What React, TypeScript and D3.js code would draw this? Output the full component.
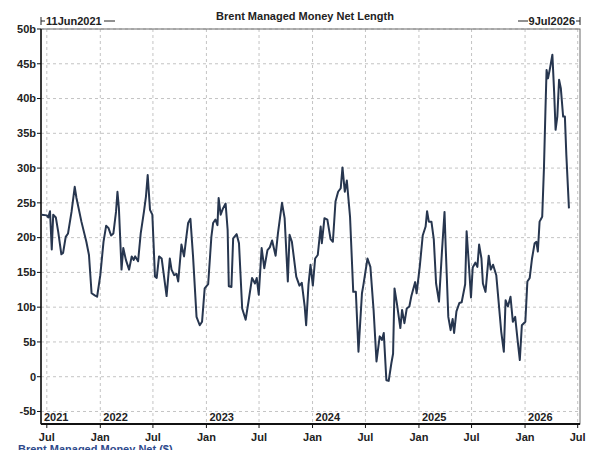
import React from 'react';
import * as d3 from 'd3';

const title = 'Brent Managed Money Net Length';
const startLabel = '11Jun2021';
const endLabel = '9Jul2026';
const seriesName = 'Brent Managed Money Net ($)';
const domainStart = '2021-06-11';
const domainEnd = '2026-07-09';

// weekly readings (approx.), $ billions
const dates = [
  '2021-06-13', '2021-07-01', '2021-07-06', '2021-07-12', '2021-07-18', '2021-07-23', '2021-08-01', '2021-08-09',
  '2021-08-20', '2021-08-26', '2021-09-04', '2021-09-12', '2021-09-24', '2021-10-05', '2021-10-11', '2021-10-28',
  '2021-11-14', '2021-11-23', '2021-12-02', '2021-12-13', '2021-12-21', '2022-01-01', '2022-01-12', '2022-01-21',
  '2022-01-29', '2022-02-07', '2022-02-15', '2022-02-24', '2022-03-01', '2022-03-06', '2022-03-15', '2022-03-21',
  '2022-03-30', '2022-04-10', '2022-04-19', '2022-04-26', '2022-05-01', '2022-05-11', '2022-05-20', '2022-05-31',
  '2022-06-07', '2022-06-13', '2022-06-21', '2022-06-29', '2022-07-08', '2022-07-14', '2022-07-22', '2022-07-31',
  '2022-08-06', '2022-08-17', '2022-08-28', '2022-09-03', '2022-09-12', '2022-09-20', '2022-09-26', '2022-10-07',
  '2022-10-16', '2022-10-24', '2022-10-30', '2022-11-07', '2022-11-16', '2022-11-28', '2022-12-09', '2022-12-17',
  '2022-12-26', '2023-01-07', '2023-01-18', '2023-01-24', '2023-02-01', '2023-02-08', '2023-02-12', '2023-02-19',
  '2023-02-27', '2023-03-08', '2023-03-15', '2023-03-19', '2023-03-28', '2023-04-03', '2023-04-15', '2023-04-23',
  '2023-05-04', '2023-05-16', '2023-05-25', '2023-06-07', '2023-06-17', '2023-06-23', '2023-06-30', '2023-07-10',
  '2023-07-19', '2023-07-30', '2023-08-07', '2023-08-15', '2023-08-27', '2023-09-04', '2023-09-18', '2023-09-27',
  '2023-10-08', '2023-10-14', '2023-10-22', '2023-11-06', '2023-11-17', '2023-11-25', '2023-12-05', '2023-12-10',
  '2023-12-18', '2023-12-25', '2024-01-02', '2024-01-10', '2024-01-19', '2024-01-29', '2024-02-02', '2024-02-11',
  '2024-02-21', '2024-03-03', '2024-03-11', '2024-03-20', '2024-03-29', '2024-04-07', '2024-04-13', '2024-04-21',
  '2024-04-28', '2024-05-09', '2024-05-20', '2024-05-29', '2024-06-07', '2024-06-19', '2024-06-24', '2024-07-08',
  '2024-07-18', '2024-07-29', '2024-08-08', '2024-08-19', '2024-08-27', '2024-09-02', '2024-09-11', '2024-09-19',
  '2024-09-28', '2024-10-04', '2024-10-09', '2024-10-18', '2024-10-29', '2024-11-04', '2024-11-12', '2024-11-20',
  '2024-11-29', '2024-12-06', '2024-12-19', '2024-12-24', '2025-01-04', '2025-01-14', '2025-01-24', '2025-01-29',
  '2025-02-04', '2025-02-13', '2025-02-21', '2025-03-01', '2025-03-11', '2025-03-21', '2025-03-30', '2025-04-03',
  '2025-04-12', '2025-04-20', '2025-04-27', '2025-05-02', '2025-05-10', '2025-05-20', '2025-05-28', '2025-06-09',
  '2025-06-14', '2025-06-21', '2025-06-29', '2025-07-05', '2025-07-14', '2025-07-21', '2025-07-27', '2025-08-04',
  '2025-08-09', '2025-08-18', '2025-08-29', '2025-09-05', '2025-09-13', '2025-09-24', '2025-10-02', '2025-10-11',
  '2025-10-20', '2025-10-26', '2025-11-03', '2025-11-12', '2025-11-20', '2025-11-28', '2025-12-07', '2025-12-14',
  '2025-12-21', '2026-01-02', '2026-01-09', '2026-01-17', '2026-01-25', '2026-02-03', '2026-02-09', '2026-02-14',
  '2026-02-20', '2026-03-01', '2026-03-07', '2026-03-12', '2026-03-16', '2026-03-21', '2026-03-28', '2026-04-05',
  '2026-04-11', '2026-04-16', '2026-04-22', '2026-04-28', '2026-05-04', '2026-05-12', '2026-05-18', '2026-05-23',
  '2026-06-01',
];

const values = [
  23.3, 23.2, 22.9, 23.8, 18.3, 23.3, 22.9, 20.9,
  17.6, 17.8, 20.1, 20.6, 23.7, 27.3, 25.7, 22.3,
  19.4, 17.5, 12.0, 11.7, 11.5, 14.6, 19.4, 21.7,
  21.4, 20.3, 20.6, 23.7, 26.6, 24.2, 15.4, 18.5,
  16.8, 15.4, 17.3, 16.8, 17.3, 16.6, 20.6, 23.7,
  25.9, 29.0, 24.0, 23.3, 14.4, 14.2, 17.3, 17.0,
  15.1, 11.6, 17.0, 15.4, 14.6, 14.8, 13.7, 19.0,
  17.3, 20.1, 22.1, 22.7, 17.3, 8.6, 7.4, 7.9,
  12.7, 13.3, 20.1, 22.1, 22.6, 21.8, 25.7, 23.3,
  24.2, 24.9, 21.1, 13.0, 12.9, 19.9, 20.5, 19.2,
  9.8, 8.2, 10.6, 14.2, 13.4, 14.2, 11.8, 18.5,
  15.6, 18.2, 18.6, 19.6, 17.4, 20.6, 25.0, 22.8,
  13.7, 20.4, 19.4, 14.4, 13.1, 13.5, 10.1, 7.4,
  13.2, 16.1, 13.1, 17.0, 17.5, 21.6, 19.2, 22.8,
  22.6, 19.8, 19.4, 25.2, 26.6, 27.1, 30.1, 26.6,
  28.2, 23.0, 12.2, 12.2, 3.6, 12.0, 13.2, 17.0,
  15.8, 9.6, 2.2, 5.8, 5.3, 6.3, -0.5, -0.6,
  1.9, 3.3, 12.7, 10.3, 7.0, 9.6, 7.7, 9.8,
  10.1, 11.6, 13.6, 12.0, 15.9, 20.3, 21.6, 23.8,
  22.3, 22.3, 19.8, 13.4, 10.8, 17.9, 23.7, 18.7,
  8.6, 6.7, 8.3, 6.3, 9.4, 10.6, 10.7, 13.3,
  20.9, 16.6, 11.4, 15.7, 16.4, 15.8, 19.0, 17.0,
  13.4, 12.2, 17.4, 15.4, 16.1, 14.6, 10.8, 6.5,
  3.6, 11.0, 10.1, 11.5, 7.9, 8.6, 5.0, 2.4,
  7.4, 7.9, 13.7, 14.2, 17.0, 19.2, 19.4, 18.0,
  22.3, 23.0, 30.0, 38.1, 44.1, 42.9, 44.4, 46.3,
  41.0, 35.5, 37.4, 42.7, 41.5, 37.4, 37.4, 31.9,
  24.2,
];

const yTicks = [-5, 0, 5, 10, 15, 20, 25, 30, 35, 40, 45, 50];
const years = [2021, 2022, 2023, 2024, 2025, 2026];

const parse = d3.timeParse('%Y-%m-%d');
const font = '"Liberation Sans", Arial, sans-serif';

export default function App() {
  const width = 600;
  const height = 450;
  const left = 41;
  const right = 580;
  const top = 29;
  const bottom = 424;

  const x = d3.scaleTime()
    .domain([parse(domainStart) as Date, parse(domainEnd) as Date])
    .range([left, right]);
  const y = d3.scaleLinear().domain([-6.8, 50]).range([bottom, top]);

  const points = dates.map((d, i) => ({ date: parse(d) as Date, value: values[i] }));
  const linePath = d3.line<{ date: Date; value: number }>()
    .x((d) => x(d.date))
    .y((d) => y(d.value))(points);

  const xTicks = x.ticks(d3.timeMonth.every(6) as d3.TimeInterval);
  const fmtMonth = d3.timeFormat('%b');

  return (
    <svg
      width={width}
      height={height}
      style={{ position: 'absolute', left: 0, top: 0, background: '#fff' }}
      fontFamily={font}
    >
      <rect x={0} y={0} width={width} height={height} fill="#fff" />

      {/* grid */}
      {yTicks.map((t) => (
        <line key={'gy' + t} x1={left} x2={right} y1={y(t)} y2={y(t)}
          stroke="#c4c4c4" strokeDasharray="3,3" strokeWidth={1} />
      ))}
      {xTicks.map((t, i) => (
        <line key={'gx' + i} x1={x(t)} x2={x(t)} y1={top} y2={bottom}
          stroke="#c4c4c4" strokeDasharray="3,3" strokeWidth={1} />
      ))}

      {/* frame */}
      <rect x={left} y={top} width={right - left} height={bottom - top}
        fill="none" stroke="#6a6a6a" strokeWidth={1} />
      <line x1={left} x2={left} y1={top} y2={bottom} stroke="#111" strokeWidth={1.5} />
      <line x1={left} x2={right} y1={bottom} y2={bottom} stroke="#111" strokeWidth={2} />

      {/* series */}
      <path d={linePath ?? ''} fill="none" stroke="#27364f" strokeWidth={2} strokeLinejoin="round" />

      {/* y axis */}
      {yTicks.map((t) => (
        <g key={'ty' + t}>
          <line x1={left - 4} x2={left} y1={y(t)} y2={y(t)} stroke="#111" />
          <text x={left - 5} y={y(t)} dy="0.35em" textAnchor="end"
            fontSize={11} fontWeight="bold" fill="#222">
            {t === 0 ? '0' : `${t}b`}
          </text>
        </g>
      ))}

      {/* x axis */}
      {xTicks.map((t, i) => (
        <g key={'tx' + i}>
          <line x1={x(t)} x2={x(t)} y1={bottom} y2={bottom + 4} stroke="#111" />
          <text x={x(t)} y={bottom + 17} textAnchor="middle"
            fontSize={11} fontWeight="bold" fill="#222">
            {fmtMonth(t)}
          </text>
        </g>
      ))}
      {years.map((yr) => (
        <text key={'yr' + yr}
          x={Math.max(x(new Date(yr, 0, 1)), left) + 3}
          y={bottom - 3}
          fontSize={11} fontWeight="bold" fill="#222">
          {yr}
        </text>
      ))}

      {/* header */}
      <text x={305} y={20} textAnchor="middle" fontSize={11} fontWeight="bold" fill="#222">
        {title}
      </text>
      <line x1={left} x2={left} y1={17} y2={25} stroke="#222" />
      <line x1={left} x2={left + 4} y1={21} y2={21} stroke="#222" />
      <text x={left + 5} y={25} fontSize={11} fontWeight="bold" fill="#222">{startLabel}</text>
      <line x1={104} x2={115} y1={21} y2={21} stroke="#222" />

      <line x1={right} x2={right} y1={17} y2={25} stroke="#222" />
      <line x1={right - 4} x2={right} y1={21} y2={21} stroke="#222" />
      <text x={right - 5} y={25} textAnchor="end" fontSize={11} fontWeight="bold" fill="#222">{endLabel}</text>
      <line x1={518} x2={528} y1={21} y2={21} stroke="#222" />

      {/* legend (cut by page edge) */}
      <text x={18} y={453} fontSize={11} fontWeight="bold" fill="#2e4a8c">{seriesName}</text>
    </svg>
  );
}
